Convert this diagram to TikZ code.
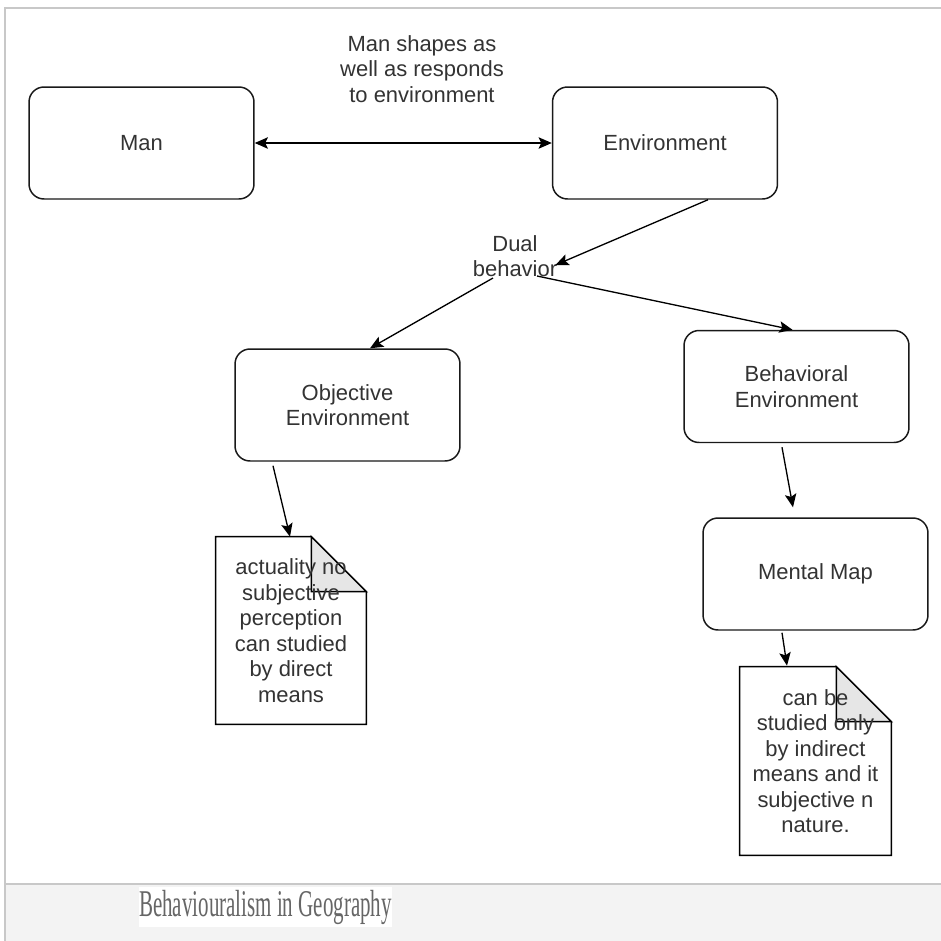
\documentclass[tikz,border=0pt]{standalone}
\usepackage{fontspec}
\setmainfont{Liberation Sans}
\newfontfamily\capfont[FakeStretch=0.555]{Liberation Serif}
\usetikzlibrary{calc,arrows.meta,backgrounds}
\definecolor{txtGris}{HTML}{333333}
\definecolor{capGris}{HTML}{666666}
\definecolor{marcoGris}{HTML}{C8C8C8}
\definecolor{barraGris}{HTML}{F3F3F3}
\definecolor{plieGris}{HTML}{E6E6E6}

\begin{document}
\begin{tikzpicture}[x=0.02cm, y=-0.02cm,
      font=\fontsize{12.5}{14.5}\selectfont,
      every node/.style={align=center, text=txtGris},
      box/.style={rectangle, rounded corners=0.3cm, draw=black!90, line width=0.85pt,
                  minimum width=4.5cm, minimum height=2.24cm, inner sep=0pt},
      note/.style={rectangle, inner sep=0pt, minimum width=3cm, minimum height=3.74cm},
      lbl/.style={inner sep=0pt},
      flecha/.style={draw=black, line width=0.75pt,
                     -{Stealth[length=7.5pt, width=6.5pt, inset=1.5pt]}}]
    \useasboundingbox (0,0) rectangle (941,941);
    % frame and caption bar
    \fill[barraGris] (5,884) rectangle (941,941);
    \draw[marcoGris, line width=0.7pt] (941,8) -- (5,8) -- (5,941);
    \draw[marcoGris, line width=0.7pt] (5,884) -- (941,884);
    \node[fill=white, inner sep=0pt, minimum width=5.06cm, minimum height=0.8cm,
          text=capGris, font=\capfont\fontsize{21.5}{23}\selectfont] (cap) at (265.5,907)
          {Behaviouralism in Geography};

    \node[box] (man) at (141.5,143) {Man};
    \node[box] (env) at (665,143) {Environment};
    \node[lbl] (shapes) at (422,69) {Man shapes as\\well as responds\\to environment};
    \node[lbl] (dual) at (515,256) {Dual\\behavior};
    \node[box] (obj) at (347.5,405) {Objective\\Environment};
    \node[box] (beh) at (796.5,386.5) {Behavioral\\Environment};
    \node[box] (mental) at (815.5,574) {Mental Map};
    \node[note] (n1) at (291,630.5) {actuality no\\subjective\\perception\\can studied\\by direct\\means};
    \node[note, minimum width=3.02cm, minimum height=3.76cm] (n2) at (815.5,761)
          {can be\\studied only\\by indirect\\means and it\\subjective n\\nature.};

    \begin{scope}[on background layer]
      \foreach \n in {n1,n2} {
        \draw[line width=0.85pt, fill=white] (\n.north west) -- ($(\n.north east)+(-55,0)$)
          -- ($(\n.north east)+(0,55)$) -- (\n.south east) -- (\n.south west) -- cycle;
        \draw[line width=0.85pt, fill=plieGris] ($(\n.north east)+(-55,0)$)
          -- ($(\n.north east)+(-55,55)$) -- ($(\n.north east)+(0,55)$) -- cycle;
      }
    \end{scope}

    \draw[flecha, {Stealth[length=7.5pt, width=6.5pt, inset=1.5pt]}-{Stealth[length=7.5pt, width=6.5pt, inset=1.5pt]}]
      (man.east) -- (env.west);
    \draw[flecha] ($(env.south)+(43,0)$) -- ($(dual.east)+(-2,9)$);
    \draw[flecha] ($(dual.center)+(22,20)$) -- ($(beh.north)+(-4,0)$);
    \draw[flecha] ($(dual.center)+(-22,22)$) -- ($(obj.north)+(22.5,0)$);
    \draw[flecha] ($(obj.south)+(-74.5,4)$) -- ($(n1.north)+(-1,0)$);
    \draw[flecha] ($(beh.south)+(-14.5,4)$) -- ($(mental.north)+(-22.5,-10)$);
    \draw[flecha] ($(mental.south)+(-33.5,2)$) -- ($(n2.north)+(-28.5,-1)$);
  \end{tikzpicture}
\end{document}
